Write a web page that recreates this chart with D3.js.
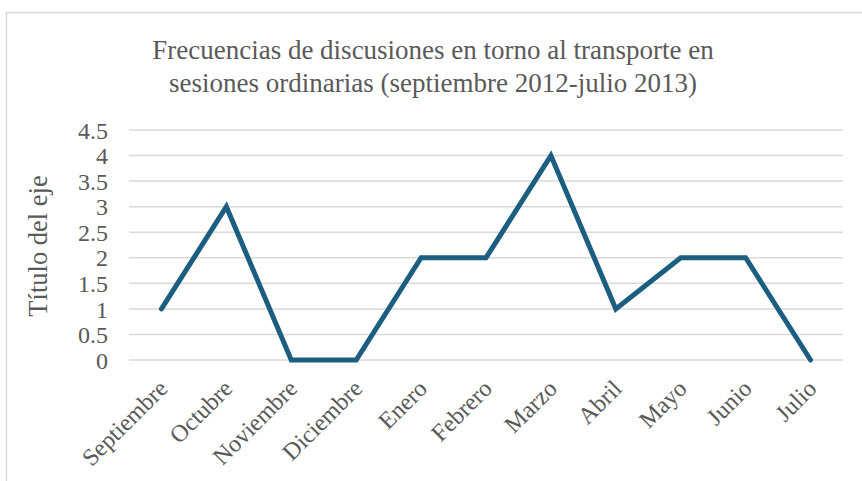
<!DOCTYPE html>
<html>
<head>
<meta charset="utf-8">
<script src="https://cdn.jsdelivr.net/npm/d3@7"></script>
<style>
html,body{margin:0;padding:0;background:#fff;}
text{font-family:"Liberation Serif","Times New Roman",serif;fill:#595959;}
</style>
</head>
<body>
<svg id="chart" width="862" height="481"></svg>
<script>
const months = ["Septiembre","Octubre","Noviembre","Diciembre","Enero","Febrero","Marzo","Abril","Mayo","Junio","Julio"];
const values = [1,3,0,0,2,2,4,1,2,2,0];
const yTicks = [0,0.5,1,1.5,2,2.5,3,3.5,4,4.5];
const titleLines = ["Frecuencias de discusiones en torno al transporte en","sesiones ordinarias (septiembre 2012-julio 2013)"];
const yTitle = "Título del eje";

(function(){
const svg = d3.select("#chart");
// chart border
svg.append("path").attr("d","M6.5,481 L6.5,12.5 L862,12.5").attr("fill","none").attr("stroke","#d9d9d9").attr("stroke-width",1.5);

const pL=129, pR=843, pT=130, pB=360;
const x = d3.scalePoint().domain(months).range([pL,pR]).padding(0.5);
const y = d3.scaleLinear().domain([0,4.5]).range([pB,pT]);

// gridlines
svg.append("g").selectAll("line").data(yTicks).join("line")
  .attr("x1",pL).attr("x2",pR)
  .attr("y1",d=>y(d)).attr("y2",d=>y(d))
  .attr("stroke","#d9d9d9").attr("stroke-width",1.5);

// y axis labels
const yAxis = d3.axisLeft(y).tickValues(yTicks).tickSize(0).tickPadding(0).tickFormat(d3.format("~g"));
const gy = svg.append("g").attr("transform",`translate(${pL-21},0)`).call(yAxis);
gy.select(".domain").remove();
gy.selectAll("text").attr("font-size",24).attr("dy","0.34em").style("font-family","Liberation Serif").attr("fill","#595959");

// x axis labels
const xAxis = d3.axisBottom(x).tickSize(0).tickPadding(0);
const gx = svg.append("g").attr("transform",`translate(0,${pB})`).call(xAxis);
gx.select(".domain").remove();
gx.selectAll("text")
  .attr("font-size",24).attr("y",0).attr("dy",0)
  .attr("text-anchor","end")
  .attr("transform","translate(7,30) rotate(-45)")
  .style("font-family","Liberation Serif").attr("fill","#595959");

// line
const line = d3.line().x((d,i)=>x(months[i])).y(d=>y(d));
svg.append("path").datum(values).attr("d",line)
  .attr("fill","none").attr("stroke","#1c5e80").attr("stroke-width",5)
  .attr("stroke-linejoin","miter").attr("stroke-linecap","round");

// title
svg.append("g").selectAll("text").data(titleLines).join("text")
  .attr("x",433).attr("y",(d,i)=>59+i*33)
  .attr("text-anchor","middle").attr("font-size",27).text(d=>d);

// y axis title
svg.append("text").attr("transform","translate(47,246) rotate(-90)")
  .attr("text-anchor","middle").attr("font-size",26.5).text(yTitle);
})();
</script>
</body>
</html>
